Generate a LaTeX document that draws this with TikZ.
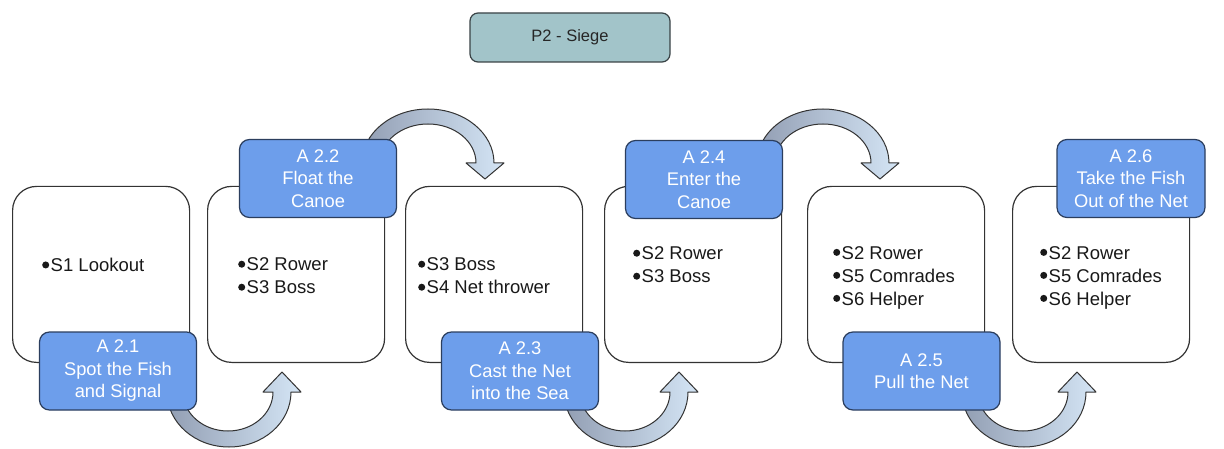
\documentclass[tikz,border=0pt]{standalone}
\usepackage{fontspec}
\setmainfont{Liberation Sans}
\definecolor{ablue}{HTML}{6D9EEB}
\definecolor{aborder}{HTML}{2B3E5E}
\definecolor{tfill}{HTML}{A2C4C9}
\definecolor{tborder}{HTML}{3A4346}
\definecolor{arrdark}{HTML}{929EB3}
\definecolor{arrlight}{HTML}{D4E5F5}
\definecolor{boxline}{HTML}{333333}
\tikzset{
  wbox/.style={draw=boxline, line width=1.2pt, rounded corners=24pt, fill=white,
    minimum width=177pt, minimum height=176pt, inner sep=0pt, anchor=south west},
  abox/.style={draw=aborder, line width=1.2pt, rounded corners=10pt, fill=ablue,
    text=white, minimum width=157pt, minimum height=78pt, inner sep=0pt,
    align=center, font=\fontsize{18.3}{22.5}\selectfont},
  tbox/.style={draw=tborder, line width=1.2pt, rounded corners=8pt, fill=tfill,
    text=black!85, minimum width=200pt, minimum height=49pt, inner sep=0pt,
    font=\fontsize{16.5}{20}\selectfont},
  btext/.style={anchor=west, align=left, inner sep=0pt, text=black!90,
    font=\fontsize{18.5}{23}\selectfont},
  curvearrow/.style={draw=boxline, line width=1pt, left color=arrdark, right color=arrlight, line join=round}
}
\newcommand{\bl}{\tikz[baseline=0pt]\fill[black!90] (0,0.36em) circle[radius=0.19em];\hspace{1.5pt}}
\newcommand{\botarrow}[1]{%
  \begin{scope}[xshift=#1]
    \path[curvearrow] (167,56) arc[start angle=180, end angle=360, x radius=62, y radius=55]
      -- (301,56) -- (282,76) -- (263,56) -- (273,56)
      arc[start angle=0, end angle=-180, x radius=45, y radius=39] -- cycle;
  \end{scope}}
\newcommand{\toparrow}[1]{%
  \begin{scope}[xshift=#1]
    \path[curvearrow] (362,285) arc[start angle=180, end angle=0, x radius=66, y radius=54]
      -- (504,285) -- (485,269) -- (466,285) -- (476,285)
      arc[start angle=0, end angle=180, x radius=48, y radius=39] -- cycle;
  \end{scope}}
\begin{document}
\begin{tikzpicture}[x=1pt,y=1pt]
  \useasboundingbox[fill=white] (0,0) rectangle (1224,448);

  % title
  \node[tbox] (title) at (570,410.5) {P2 - Siege};

  % white boxes
  \node[wbox] (b1) at (12,85) {};
  \node[wbox] (b2) at (207,85) {};
  \node[wbox] (b3) at (405,85) {};
  \node[wbox] (b4) at (604,85) {};
  \node[wbox] (b5) at (807,85) {};
  \node[wbox] (b6) at (1012,85) {};

  % box texts
  \node[btext] (t1) at (42,183) {\bl S1 Lookout};
  \node[btext] (t2) at (238,172) {\bl S2 Rower\\\bl S3 Boss};
  \node[btext] (t3) at (418,172) {\bl S3 Boss\\\bl S4 Net thrower};
  \node[btext] (t4) at (633,183) {\bl S2 Rower\\\bl S3 Boss};
  \node[btext] (t5) at (833,170.5) {\bl S2 Rower\\\bl S5 Comrades\\\bl S6 Helper};
  \node[btext] (t6) at (1040,170.5) {\bl S2 Rower\\\bl S5 Comrades\\\bl S6 Helper};

  % curved arrows
  \botarrow{0}
  \botarrow{397}
  \botarrow{795}
  \toparrow{0}
  \toparrow{395}

  % action boxes
  \node[abox] (a1) at (118,77) {A 2.1\\Spot the Fish\\and Signal};
  \node[abox] (a2) at (318,269.5) {A 2.2\\Float the\\Canoe};
  \node[abox] (a3) at (520,77) {A 2.3\\Cast the Net\\into the Sea};
  \node[abox] (a4) at (704,268.5) {A 2.4\\Enter the\\Canoe};
  \node[abox] (a5) at (921.5,77) {A 2.5\\Pull the Net};
  \node[abox, minimum width=148pt] (a6) at (1131,269.5) {A 2.6\\Take the Fish\\Out of the Net};
\end{tikzpicture}
\end{document}
